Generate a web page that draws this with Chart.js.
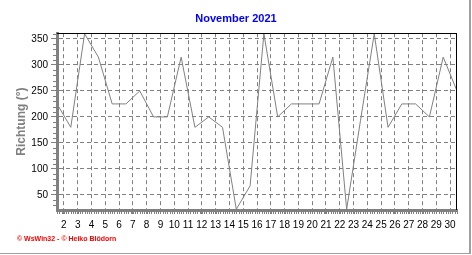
<!DOCTYPE html>
<html>
<head>
<meta charset="utf-8">
<script src="https://cdn.jsdelivr.net/npm/chart.js@4.4.0/dist/chart.umd.min.js"></script>
<style>
html, body { margin: 0; padding: 0; background: #fff; }
#wrap { position: relative; width: 472px; height: 255px; }
#wrap canvas { position: absolute; left: 0; top: 0; }
#frame { position: absolute; left: 0; top: 0; width: 469px; height: 253px; border-right: 2px solid #a0a0a0; border-bottom: 1px solid #a0a0a0; pointer-events: none; }
#credit { position: absolute; left: 17px; top: 235px; font: bold 7px "Liberation Sans", Arial, sans-serif; color: #ff0000; white-space: nowrap; }
</style>
</head>
<body>
<div id="wrap">
  <canvas id="myChart" width="472" height="255"></canvas>
  <div id="frame"></div>
  <div id="credit">© WsWin32 - © Heiko Blödorn</div>
</div>
<script>
// Windrichtung November 2021, ein Wert pro Tag
var days = [1, 2, 3, 4, 5, 6, 7, 8, 9, 10, 11, 12, 13, 14, 15,
            16, 17, 18, 19, 20, 21, 22, 23, 24, 25, 26, 27, 28, 29, 30];
var richtung = [225, 180, 360, 315, 225, 225, 250, 200, 200, 315, 180, 200, 180, 22.5, 67.5,
                360, 200, 225, 225, 225, 315, 22.5, 192.5, 360, 180, 225, 225, 200, 315, 250];
var dayLabels = ['2', '3', '4', '5', '6', '7', '8', '9', '10', '11', '12', '13', '14', '15', '16',
                 '17', '18', '19', '20', '21', '22', '23', '24', '25', '26', '27', '28', '29', '30'];
var yTicks = [50, 100, 150, 200, 250, 300, 350];

var yMin = 21, yMax = 361;

Chart.defaults.font.family = '"Liberation Sans", Arial, sans-serif';

// kleine Striche an den Achsen + schwarzer Rahmen oben/rechts
var axisDeco = {
  id: 'axisDeco',
  afterDraw: function (chart) {
    var ctx = chart.ctx, a = chart.chartArea;
    var sx = chart.scales.x, sy = chart.scales.y;
    ctx.save();
    ctx.lineWidth = 1;
    ctx.strokeStyle = '#808080';
    ctx.beginPath();
    for (var v = 30; v <= 360; v += 10) {
      if (v % 50 === 0) continue;
      var py = Math.round(sy.getPixelForValue(v)) + 0.5;
      ctx.moveTo(a.left - 4, py);
      ctx.lineTo(a.left - 1, py);
    }
    for (var h = 0; h <= 29 * 6; h++) {
      var px = Math.round(sx.getPixelForValue(1 + h / 6)) + 0.5;
      ctx.moveTo(px, a.bottom + 1);
      ctx.lineTo(px, a.bottom + 4);
    }
    ctx.stroke();
    ctx.strokeStyle = '#000';
    ctx.beginPath();
    ctx.moveTo(a.left, Math.round(a.top) + 0.5);
    ctx.lineTo(a.right, Math.round(a.top) + 0.5);
    ctx.moveTo(Math.round(a.right) - 0.5, a.top);
    ctx.lineTo(Math.round(a.right) - 0.5, a.bottom);
    ctx.stroke();
    ctx.restore();
  }
};

var ctx = document.getElementById('myChart');
var myChart = new Chart(ctx, {
  type: 'line',
  data: {
    datasets: [{
      label: 'Richtung',
      data: days.map(function (d, i) { return { x: d, y: richtung[i] }; }),
      borderColor: '#808080',
      borderWidth: 1,
      pointRadius: 0,
      tension: 0,
      fill: false
    }]
  },
  options: {
    responsive: false,
    animation: false,
    devicePixelRatio: 1,
    layout: { padding: 0 },
    plugins: {
      legend: { display: false },
      tooltip: { enabled: false },
      title: {
        display: true,
        text: 'November 2021',
        color: '#0000ff',
        font: { size: 11, weight: 'bold' },
        padding: { top: 12, bottom: 8 }
      }
    },
    scales: {
      x: {
        type: 'linear',
        min: 1,
        max: 30,
        afterBuildTicks: function (scale) {
          scale.ticks = dayLabels.map(function (l) { return { value: Number(l) - 0.5 }; });
        },
        afterFit: function (scale) { scale.height = 45; },
        ticks: {
          color: '#000',
          font: { size: 10 },
          padding: 5,
          autoSkip: false,
          maxRotation: 0,
          callback: function (value, index) { return dayLabels[index]; }
        },
        grid: { color: '#808080', tickLength: 4, tickColor: '#808080' },
        border: { display: true, color: '#808080', width: 3, dash: [4, 3] }
      },
      y: {
        type: 'linear',
        min: yMin,
        max: yMax,
        afterBuildTicks: function (scale) {
          scale.ticks = yTicks.map(function (v) { return { value: v }; });
        },
        afterFit: function (scale) { scale.width = 57; },
        ticks: { color: '#000', font: { size: 10 }, padding: 3 },
        grid: { color: '#808080', tickLength: 6, tickColor: '#808080' },
        border: { display: true, color: '#808080', width: 3, dash: [4, 3] },
        title: {
          display: true,
          text: 'Richtung (°)',
          color: '#808080',
          font: { size: 12, weight: 'bold' },
          padding: { top: 14, bottom: 0 }
        }
      },
      yRight: {
        type: 'linear',
        position: 'right',
        min: yMin,
        max: yMax,
        afterFit: function (scale) { scale.width = 15; },
        ticks: { display: false },
        grid: { display: false },
        border: { display: false }
      }
    }
  },
  plugins: [axisDeco]
});
</script>
</body>
</html>
